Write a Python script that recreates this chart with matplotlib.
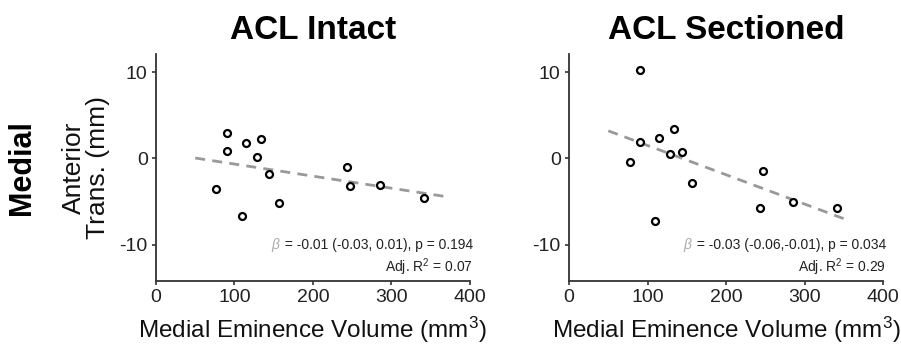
import numpy as np
from matplotlib import pyplot as plt

plt.rcParams['font.family'] = ['Liberation Sans', 'DejaVu Sans']
plt.rcParams['mathtext.fontset'] = 'custom'
plt.rcParams['mathtext.rm'] = 'Liberation Sans'
plt.rcParams['mathtext.it'] = 'Liberation Sans:italic'
plt.rcParams['axes.unicode_minus'] = False

# Medial eminence volume (mm^3), same knees in both panels
volume = [77, 90.5, 90.5, 110, 115, 128.5, 134, 143.5, 156.5, 243, 247, 285, 341]
# Anterior translation (mm)
intact_trans = [-3.5, 3.0, 0.9, -6.7, 1.8, 0.2, 2.2, -1.8, -5.2, -1.0, -3.2, -3.1, -4.6]
sectioned_trans = [-0.4, 10.3, 1.85, -7.2, 2.4, 0.5, 3.4, 0.7, -2.9, -5.7, -1.5, -5.0, -5.7]

# regression lines (end points)
intact_fit_x = [50, 368]
intact_fit_y = [0.05, -4.4]
sectioned_fit_x = [50, 358]
sectioned_fit_y = [3.2, -7.25]

titles = ["ACL Intact", "ACL Sectioned"]
beta_text = [" = -0.01 (-0.03, 0.01), p = 0.194", " = -0.03 (-0.06,-0.01), p = 0.034"]
r2_text = ["Adj. R$^2$ = 0.07", "Adj. R$^2$ = 0.29"]

fig = plt.figure(figsize=(9.01, 3.54), dpi=100)
ax1 = fig.add_axes([0.1731, 0.2062, 0.3485, 0.6412])
ax2 = fig.add_axes([0.6316, 0.2062, 0.3485, 0.6412])

panels = [(ax1, intact_trans, intact_fit_x, intact_fit_y),
          (ax2, sectioned_trans, sectioned_fit_x, sectioned_fit_y)]

for i, (ax, trans, fx, fy) in enumerate(panels):
  ax.plot(fx, fy, color='#999999', lw=2, dashes=(3.6, 2.6), zorder=1)
  ax.plot(volume, trans, 'o', ms=5, mfc='white', mec='black', mew=1.6, zorder=2)
  ax.set_xlim(0, 400)
  ax.set_ylim(-14.2, 12.1)
  ax.set_xticks([0, 100, 200, 300, 400])
  ax.set_yticks([-10, 0, 10])
  for s in ['top', 'right']:
    ax.spines[s].set_visible(False)
  for s in ['left', 'bottom']:
    ax.spines[s].set_color('#333333')
    ax.spines[s].set_linewidth(1.3)
  ax.tick_params(direction='out', length=3, width=1.2, color='#333333',
                 labelsize=14, labelcolor='#222222', pad=3)
  ax.set_xlabel("Medial Eminence Volume (mm$^3$)", fontsize=17.5, color='#111111', labelpad=6)
  ax.set_title(titles[i], fontsize=24, fontweight='bold', pad=11)
  t = ax.text(404, -10, beta_text[i], fontsize=10, ha='right', va='center', color='#222222')
  ax.annotate(r"$\beta$", xy=(0, 0.5), xycoords=t, fontsize=10, ha='right', va='center',
              color='#aaaaaa', style='italic')
  ax.text(404, -12.6, r2_text[i], fontsize=10, ha='right', va='center', color='#222222')

ax1.set_ylabel("Anterior\nTrans. (mm)", fontsize=19, color='#111111', linespacing=1.0)
ax1.yaxis.set_label_coords(-0.146, 0.5)
fig.text(22 / 901, 1 - 168 / 354, "Medial", rotation=90, fontsize=22, fontweight='bold',
         ha='center', va='center')

plt.savefig("out.png", dpi=100)
